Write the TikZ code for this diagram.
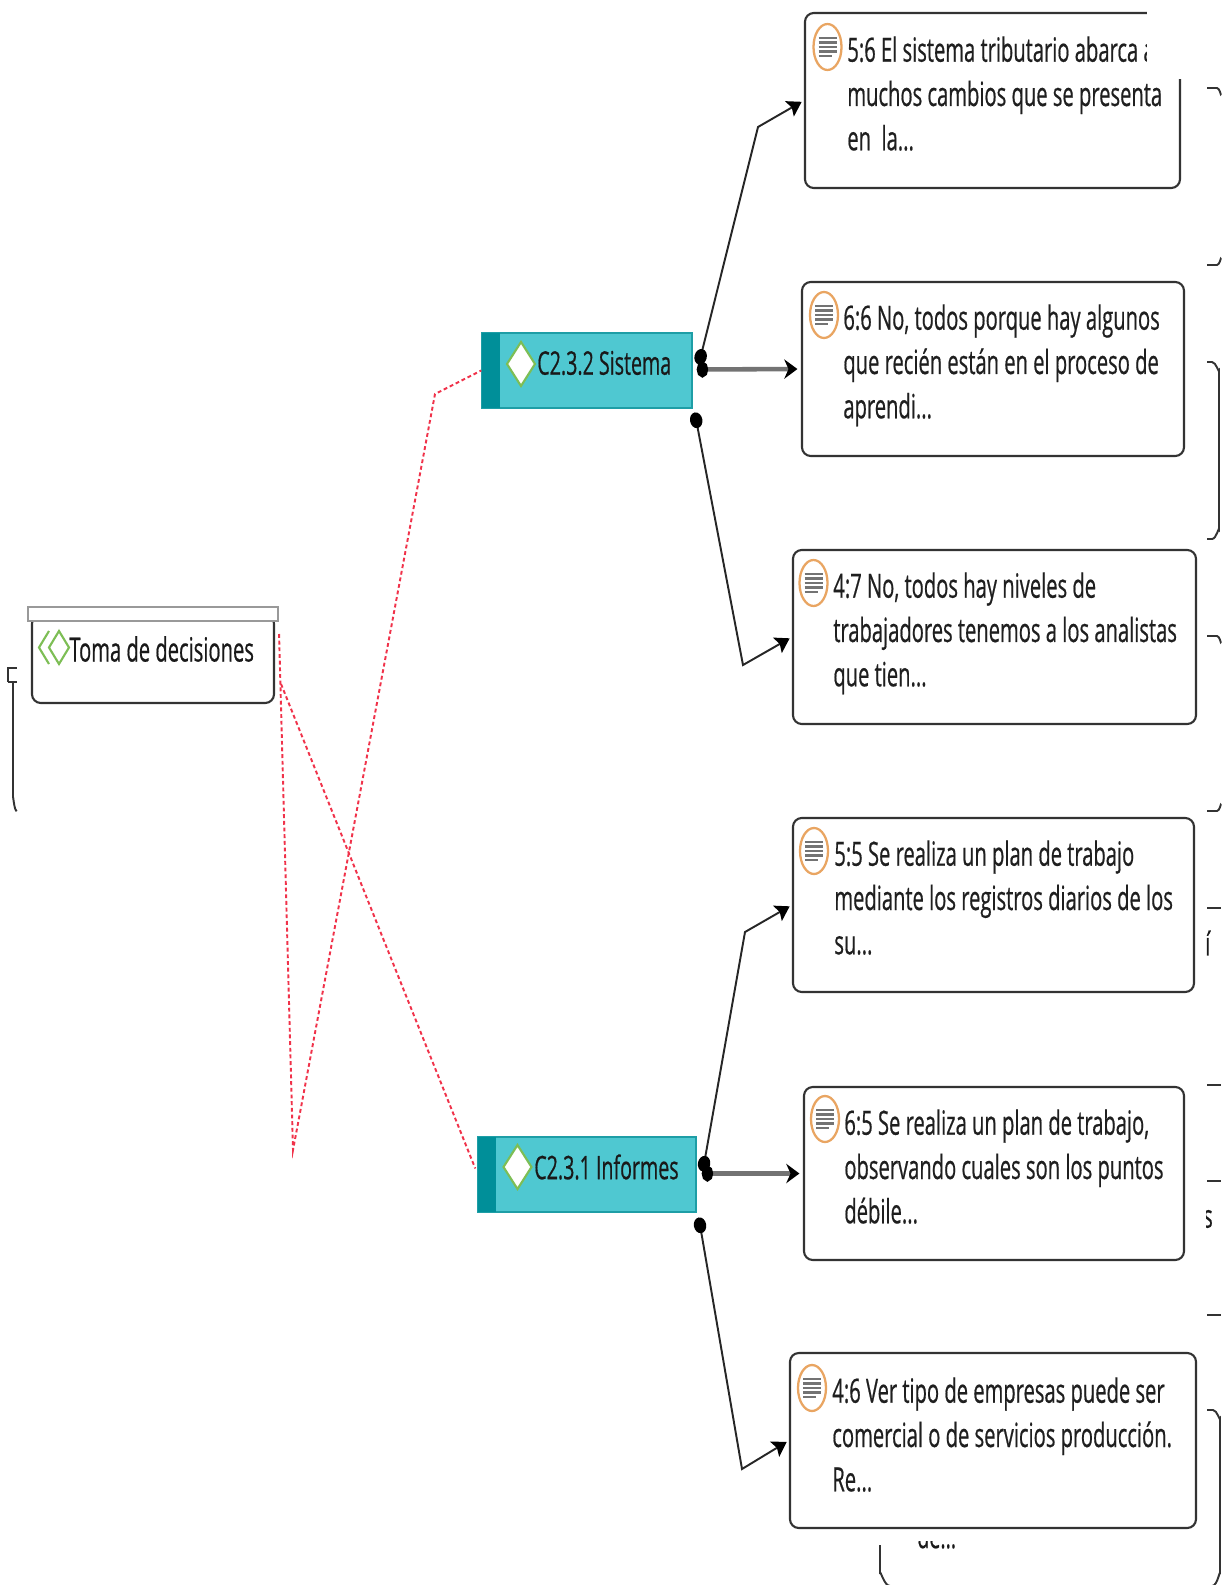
\documentclass[tikz,border=0pt]{standalone}
\usepackage{fontspec}
\usepackage{xcolor}
\usetikzlibrary{arrows.meta,calc}
\setmainfont[FakeStretch=0.604,FakeBold=0.5]{Open Sans}
\definecolor{codefill}{HTML}{4FC8D1}
\definecolor{codeband}{HTML}{008F99}
\definecolor{codeline}{HTML}{1E9EA6}
\definecolor{iconorange}{HTML}{E9A562}
\definecolor{icongreen}{HTML}{7DBE55}
\definecolor{linkred}{HTML}{F0324A}
\definecolor{boxline}{HTML}{333333}
\tikzset{
  quotebox/.style n args={2}{draw=boxline, line width=1.2pt, rounded corners=5pt, fill=white, minimum width=#1*0.02cm, minimum height=#2*0.02cm, inner sep=0pt},
  quotetext/.style={anchor=north west, align=left, inner sep=0pt, text=black!88, font=\fontsize{19}{25.2}\selectfont},
  codebox/.style n args={2}{draw=codeline, line width=.8pt, fill=codefill, minimum width=#1*0.02cm, minimum height=#2*0.02cm, inner sep=0pt},
  codetext/.style={anchor=west, inner sep=0pt, text=black!90, font=\fontsize{18.5}{23}\selectfont},
  fragline/.style={draw=boxline, line width=1.1pt},
  redlink/.style={draw=linkred, line width=1.1pt, dash pattern=on 2.2pt off 1.6pt},
  thinlink/.style={draw=black!85, line width=1.1pt, {Circle[black,length=9pt,width=7pt]}-{Stealth[black,length=8pt,width=10pt,inset=1.5pt]}, shorten >=1.5pt},
  thicklink/.style={draw=black!55, line width=2.6pt, {Circle[black,length=6.5pt,width=9pt]}-{Stealth[black,length=7.5pt,width=11pt]}, shorten >=2pt}
}
% note symbol of a quotation
\newcommand{\noteicon}[2]{
  \draw [iconorange, line width=1.3pt, fill=white] (#1,#2) ellipse (14 and 23);
  \foreach \dy in {-9,-4.5,0,4.5} \draw [black!55, line width=1.3pt] (#1-9,#2+\dy) -- (#1+9,#2+\dy);
  \draw [black!55, line width=1.3pt] (#1-9,#2+9) -- (#1+4,#2+9);
}
% diamond symbol of a code
\newcommand{\codeicon}[2]{
  \draw [icongreen, line width=1.2pt, fill=white] (#1-14,#2) -- (#1,#2-22) -- (#1+14,#2) -- (#1,#2+22) -- cycle;
}
\begin{document}
\begin{tikzpicture}[x=0.02cm, y=-0.02cm]
\useasboundingbox (0,0) rectangle (1221,1585);

% Cut off pieces at the margins
\draw [fragline] (8,682) -- (8,668) -- (17,668);
\draw [fragline] (8,682) -- (17,682);
\draw [fragline] (13,682) -- (13,798) to [out=90,in=-120] (17,810);
\draw [fragline] (1207,88) -- (1217,88) to [out=0,in=-90] (1221,94);
\draw [fragline] (1221,259) to [out=90,in=0] (1217,265) -- (1207,265);
\draw [fragline] (1207,362) -- (1212,362) to [out=0,in=-90] (1219,370) -- (1219,530) to [out=90,in=0] (1212,539) -- (1207,539);
\draw [fragline] (1207,636) -- (1217,636) to [out=0,in=-90] (1221,642);
\draw [fragline] (1221,805) to [out=90,in=0] (1217,811) -- (1207,811);
\draw [fragline] (1207,908) -- (1221,908);
\draw [fragline] (1207,1085) -- (1221,1085);
\draw [fragline] (1207,1181) -- (1221,1181);
\draw [fragline] (1207,1315) -- (1221,1315);
\draw [fragline] (1207,1410) -- (1213,1410) to [out=0,in=-90] (1220,1418) -- (1220,1574) to [out=90,in=0] (1212,1586) -- (890,1586) to [out=180,in=90] (880,1574) -- (880,1545);
\begin{scope}
  \clip (1206,925) rectangle (1212,960);
  \node [codetext] (fragone) at (1205,943) {í};
\end{scope}
\begin{scope}
  \clip (1206,1205) rectangle (1212,1235);
  \node [codetext] (fragtwo) at (1203,1219) {s};
\end{scope}
\begin{scope}
  \clip (900,1541) rectangle (970,1560);
  \node [codetext] (fragthree) at (917,1536) {de...};
\end{scope}

% Quotations
\node [quotebox={375}{175}] (q56) at (992.5,100.5) {};
\node [quotebox={382}{174}] (q66) at (993,369) {};
\node [quotebox={403}{174}] (q47) at (994.5,637) {};
\node [quotebox={401}{174}] (q55) at (993.5,905) {};
\node [quotebox={380}{173}] (q65) at (994,1173.5) {};
\node [quotebox={406}{175}] (q46) at (993,1440.5) {};
\noteicon{827.5}{47}
\noteicon{824}{315}
\noteicon{813.5}{583}
\noteicon{814}{851}
\noteicon{825}{1119}
\noteicon{812}{1388}
\node [quotetext] (q56t) at (847,36) {5:6 El sistema tributario abarca a\\muchos cambios que se presenta\\en\ \ la...};
\node [quotetext] (q66t) at (843,304) {6:6 No, todos porque hay algunos\\que recién están en el proceso de\\aprendi...};
\node [quotetext] (q47t) at (833,572) {4:7 No, todos hay niveles de\\trabajadores tenemos a los analistas\\que tien...};
\node [quotetext] (q55t) at (834,840) {5:5 Se realiza un plan de trabajo\\mediante los registros diarios de los\\su...};
\node [quotetext] (q65t) at (844,1109) {6:5 Se realiza un plan de trabajo,\\observando cuales son los puntos\\débile...};
\node [quotetext] (q46t) at (832,1377) {4:6 Ver tipo de empresas puede ser\\comercial o de servicios producción.\\Re...};

% Covered corner of the first quotation
\fill [white] (1147,0) rectangle (1221,79);

% Codes
\node [codebox={210}{75}] (sistema) at (587,370.5) {};
\fill [codeband] (482,333) rectangle (500,408);
\codeicon{521}{364}
\node [codetext] (sistemat) at (537,363) {C2.3.2 Sistema};
\node [codebox={218}{75}] (informes) at (587,1174.5) {};
\fill [codeband] (478,1137) rectangle (496,1212);
\codeicon{517.5}{1167}
\node [codetext] (informest) at (534,1167) {C2.3.1 Informes};

% Group
\node [quotebox={242}{88}] (toma) at (153,659) {};
\node [draw=black!40, line width=1.2pt, fill=white, minimum width=250*0.02cm, minimum height=14*0.02cm, inner sep=0pt] (tomabar) at (153,614) {};
\draw [icongreen, line width=1.2pt] (49,631) -- (39,647.5) -- (49,664);
\draw [icongreen, line width=1.2pt] (59,631) -- (69,647.5) -- (59,664) -- (49,647.5) -- cycle;
\node [codetext, font=\fontsize{19}{23}\selectfont] (tomat) at (69,649) {Toma de decisiones};

% Red links
\coordinate (apex) at (293,1150);
\coordinate (bendred) at (435,394);
\draw [redlink] ([shift={(4,-25)}]toma.east) -- (apex) -- (bendred) -- (sistema.west);
\draw [redlink] ([shift={(6,25)}]toma.east) -- ([shift={(-2,-6)}]informes.west);

% Links of C2.3.2
\coordinate (bendone) at (758,127);
\coordinate (bendtwo) at (743,665);
\draw [thinlink] ([shift={(6,-6)}]sistema.east) -- (bendone) -- (q56.west);
\draw [thicklink] ([shift={(4,-1)}]sistema.east) -- (q66.west);
\draw [thinlink] ([shift={(2,42)}]sistema.east) -- (bendtwo) -- (q47.west);

% Links of C2.3.1
\coordinate (bendthree) at (745,932);
\coordinate (bendfour) at (742,1469);
\draw [thinlink] ([shift={(6,-3)}]informes.east) -- (bendthree) -- (q55.west);
\draw [thicklink] ([shift={(5,-1)}]informes.east) -- (q65.west);
\draw [thinlink] ([shift={(2,43)}]informes.east) -- (bendfour) -- (q46.west);
\end{tikzpicture}
\end{document}
